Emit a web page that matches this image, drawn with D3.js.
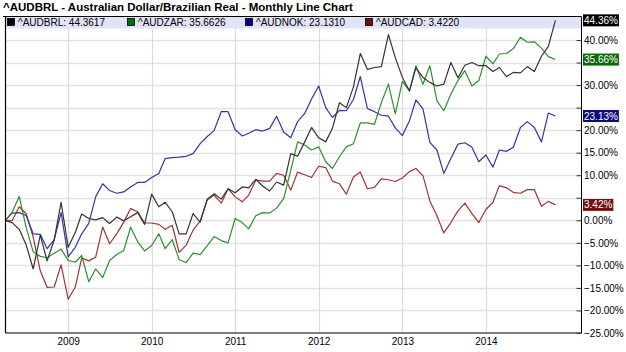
<!DOCTYPE html>
<html><head><meta charset="utf-8">
<script src="https://cdn.jsdelivr.net/npm/d3@7"></script>
<style>
body{margin:0;background:#fff;}
svg{display:block;font-family:"Liberation Sans",Arial,sans-serif;}
</style></head><body>
<svg id="c" width="626" height="352"></svg>
<script>
const title = "^AUDBRL - Australian Dollar/Brazilian Real - Monthly Line Chart";
const startMonth = "2008-04-01";
const seriesNames = ["^AUDBRL", "^AUDZAR", "^AUDNOK", "^AUDCAD"];
const legendValues = ["44.3617", "35.6626", "23.1310", "3.4220"];
const lastLabels = ["44.36%", "35.66%", "23.13%", "3.42%"];
const lineColors = ["#333333", "#2f8f2f", "#35359c", "#9c3535"];
const boxColors = ["#000000", "#066a06", "#0a0a78", "#741010"];
const yearTicks = [2009, 2010, 2011, 2012, 2013, 2014];
const yTickLabels = [40, 30, 20, 15, 10, 0, -5, -10, -15, -20, -25];
const yGridValues = [-20, -15, -10, -5, 0, 5, 10, 15, 20, 25, 30, 35, 40];

const audbrl = [0,-0.5,-2.0,-5.4,-10.8,-3.3,-9.0,-4.3,4.0,-6.0,-2.7,1.4,0.4,0.1,0.6,-0.7,0.7,-0.1,0.8,1.7,-0.9,5.8,3.0,4.0,1.9,-3.0,-3.0,1.5,-0.4,4.7,5.9,4.7,7.0,6.1,7.4,7.2,9.1,7.6,6.5,8.5,7.8,14.8,14.2,17.4,20.6,18.3,17.4,20.4,26.1,25.0,29.6,37.0,33.5,33.9,34.1,41.2,36.1,31.7,28.7,33.8,31.7,30.6,29.8,30.2,35.0,31.6,34.4,35.0,34.3,34.3,33.0,33.9,31.9,32.8,32.7,34.1,33.0,36.4,38.6,44.36];
const audzar = [0,1.8,5.3,-1.5,-7.0,-8.0,-8.3,-7.3,-6.4,-8.9,-9.3,-7.8,-13.6,-10.8,-12.7,-8.9,-7.6,-6.7,-1.5,-4.8,-6.8,-5.6,-3.0,-6.3,-4.3,-8.7,-9.4,-7.3,-7.6,-5.6,-3.6,-4.5,-5.0,0.4,-0.5,-1.9,1.0,1.7,1.6,2.7,4.8,11.1,17.4,16.7,15.6,16.3,13.0,11.5,14.1,16.3,17.0,21.6,21.6,21.3,26.1,30.2,23.6,30.8,28.7,34.3,30.2,34.3,26.5,24.3,28.0,31.0,33.2,29.8,31.0,36.4,34.7,36.9,37.0,38.1,40.6,39.5,39.6,38.2,36.3,35.66];
const audnok = [0,1.6,1.7,1.1,-3.0,-3.1,-6.3,-4.3,1.7,-8.1,-6.0,-3.0,-0.7,5.2,8.1,6.6,6.0,6.3,7.4,8.4,8.4,9.5,10.4,13.7,13.9,14.0,14.2,14.8,17.0,18.6,19.9,24.1,24.1,20.1,18.7,19.3,20.1,19.8,20.4,23.1,19.6,18.3,21.9,23.7,26.9,29.8,25.0,22.8,24.4,24.3,26.8,31.9,24.8,24.1,23.3,23.1,20.5,18.8,22.1,26.7,24.7,17.3,15.6,10.4,13.7,16.9,17.2,16.2,13.0,14.5,11.8,15.6,15.3,16.2,20.6,21.9,20.6,17.4,23.8,23.13];
const audcad = [0,-0.1,3.0,1.5,-3.7,-11.2,-14.9,-14.8,-9.9,-17.5,-14.8,-8.4,-9.0,-8.2,-1.5,-5.2,-3.0,-0.4,2.6,1.9,-0.6,-0.6,-0.9,-2.0,-1.1,-7.1,-5.5,-2.2,-0.2,4.5,5.6,3.8,7.0,5.2,4.1,5.6,8.9,8.7,8.7,10.4,10.0,6.7,10.7,10.1,9.5,12.0,11.7,8.7,8.1,5.8,9.6,10.7,7.0,7.3,9.2,9.0,8.6,9.4,10.8,11.5,9.9,4.3,1.0,-2.8,-0.5,2.1,3.8,1.5,-0.5,2.4,4.0,7.7,7.2,6.2,6.0,6.8,6.8,3.1,4.2,3.42];
const allSeries = [audbrl, audzar, audnok, audcad];

const W = 626, H = 352;
const plot = {left: 5.5, right: 581.5, top: 16.5, bottom: 333};
const svg = d3.select("#c");

const start = new Date(startMonth + "T00:00:00");
const dates = d3.range(audbrl.length).map(i => d3.timeMonth.offset(start, i));

const x = d3.scaleTime()
  .domain([new Date(2008, 3, 2), new Date(2015, 1, 23)])
  .range([plot.left, plot.right]);
const y = d3.scaleLinear().domain([-25, 40]).range([333, 40]);

// title
svg.append("text").attr("x", 3).attr("y", 11)
  .attr("font-size", 11.5).attr("font-weight", "bold").attr("fill", "#000")
  .text(title);

// legend band
svg.append("rect").attr("x", plot.left).attr("y", plot.top)
  .attr("width", plot.right - plot.left).attr("height", 12)
  .attr("fill", "#e3e3f7");

// horizontal grid
svg.append("g").selectAll("line").data(yGridValues).join("line")
  .attr("x1", plot.left).attr("x2", plot.right)
  .attr("y1", d => Math.round(y(d)) + 0.5).attr("y2", d => Math.round(y(d)) + 0.5)
  .attr("stroke", "#e2e2e2").attr("stroke-width", 1.6);

// vertical year grid
svg.append("g").selectAll("line").data(yearTicks).join("line")
  .attr("x1", d => Math.round(x(new Date(d, 0, 1))) + 0.5)
  .attr("x2", d => Math.round(x(new Date(d, 0, 1))) + 0.5)
  .attr("y1", plot.top + 12).attr("y2", plot.bottom)
  .attr("stroke", "#dcdcdc").attr("stroke-width", 1.2);

// lines (draw red, blue, green, black order so black on top)
const line = d3.line().x((d, i) => x(dates[i])).y(d => y(d));
[3, 2, 1, 0].forEach(k => {
  svg.append("path").datum(allSeries[k])
    .attr("d", line).attr("fill", "none")
    .attr("stroke", lineColors[k]).attr("stroke-width", 1.2)
    .attr("stroke-linejoin", "round");
});

// frame
svg.append("line").attr("x1", 3).attr("x2", plot.right).attr("y1", plot.top).attr("y2", plot.top).attr("stroke", "#000");
svg.append("line").attr("x1", plot.left).attr("x2", plot.left).attr("y1", plot.top).attr("y2", plot.bottom).attr("stroke", "#000").attr("stroke-width", 1.2);
svg.append("line").attr("x1", plot.left).attr("x2", plot.right).attr("y1", plot.bottom).attr("y2", plot.bottom).attr("stroke", "#000").attr("stroke-width", 1.2);

// right axis
const yAxis = d3.axisRight(y).tickValues(yGridValues.concat([-25]))
  .tickSize(0).tickFormat(d => yTickLabels.includes(d) ? (d < 0 ? "\u2212" + d3.format(".2f")(-d) : d3.format(".2f")(d)) + "%" : "");
const ga = svg.append("g").attr("transform", `translate(${plot.right},0)`).call(yAxis);
ga.select(".domain").attr("stroke", "#000").attr("d", `M0,${plot.top}V${plot.bottom}`);
ga.selectAll(".tick text").attr("x", 2.5).attr("font-size", 10).attr("fill", "#000").attr("font-family", "Liberation Sans, Arial, sans-serif");
ga.selectAll(".tick").append("line").attr("x1", -5).attr("x2", 0).attr("stroke", "#333");

// bottom axis labels
const xAxis = d3.axisBottom(x).tickValues(yearTicks.map(d => new Date(d, 0, 1))).tickSize(0).tickFormat(d3.timeFormat("%Y"));
const gx = svg.append("g").attr("transform", `translate(0,${plot.bottom})`).call(xAxis);
gx.select(".domain").remove();
gx.selectAll(".tick text").attr("y", 5).attr("font-size", 10).attr("fill", "#000").attr("font-family", "Liberation Sans, Arial, sans-serif");

// legend items
const legendX = [7, 127, 245, 365];
seriesNames.forEach((n, k) => {
  const g = svg.append("g").attr("transform", `translate(${legendX[k]},0)`);
  g.append("rect").attr("x", 0.5).attr("y", 18.5).attr("width", 7).attr("height", 7)
    .attr("fill", boxColors[k]).attr("stroke", "#000").attr("stroke-width", 0.8);
  g.append("text").attr("x", 11).attr("y", 26).attr("font-size", 10).attr("fill", "#000")
    .text(n + ": " + legendValues[k]);
});

// last value boxes
allSeries.forEach((s, k) => {
  const yy = y(s[s.length - 1]);
  const g = svg.append("g");
  const t = g.append("text").attr("x", 584).attr("y", yy + 3.6).attr("font-size", 10)
    .attr("fill", "#fff").text(lastLabels[k]);
  const w = t.node().getComputedTextLength();
  g.insert("rect", "text").attr("x", 583).attr("y", yy - 6).attr("width", w + 2).attr("height", 12)
    .attr("fill", boxColors[k]);
});
</script></body></html>
